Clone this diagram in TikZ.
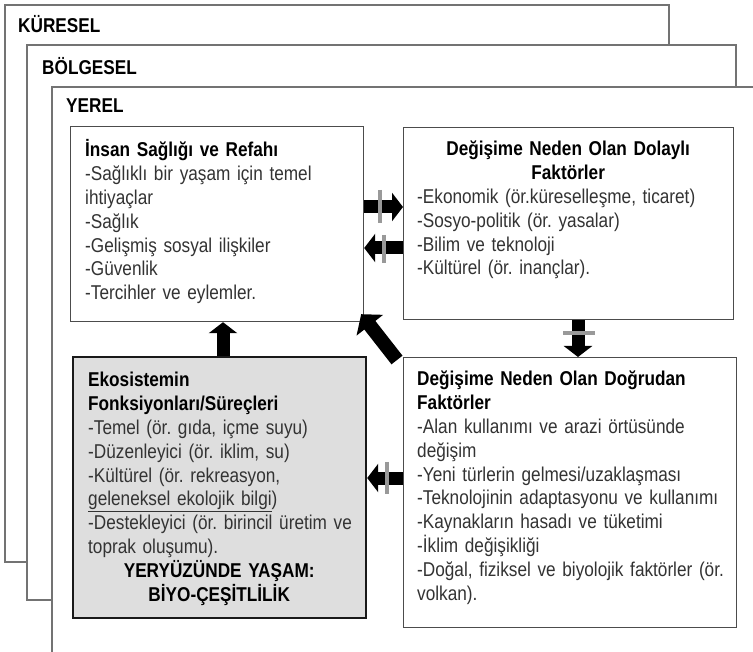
\documentclass[tikz,border=0pt]{standalone}
\usepackage{fontspec}
\setmainfont{Liberation Sans}[FakeStretch=0.86]
\usetikzlibrary{arrows.meta,calc}
\frenchspacing
\begin{document}
\begin{tikzpicture}[x=1pt,y=-1pt,
  frame/.style={draw=black!55, line width=1.3pt, fill=white},
  boxw/.style={draw=black!70, line width=1.2pt, fill=white, inner sep=0pt, anchor=north west},
  boxg/.style={draw=black!90, line width=2.2pt, fill=black!13, inner sep=0pt, anchor=north west},
  lbl/.style={anchor=base west, inner sep=0pt, font=\fontsize{20}{22}\selectfont\bfseries},
  txt/.style={anchor=base west, inner sep=0pt, text width=#1, align=left, font=\fontsize{20}{23.8}\selectfont\frenchspacing, text=black!80},
  bigarrow/.style={line width=13pt, -{Triangle[length=11pt,width=28pt]}, draw=black},
  bar/.style={draw=black!40, line width=3.5pt}
]
\useasboundingbox (0,0) rectangle (753,652);
\clip (0,0) rectangle (753,652);
% frames
\draw[frame] (5,5) rectangle (669,562);
\node[lbl] (lk) at (18,33) {KÜRESEL};
\draw[frame] (27,45) rectangle (736,600);
\node[lbl] (lb) at (42,75) {BÖLGESEL};
\draw[frame] (52,87) rectangle (775,680);
\node[lbl] (ly) at (66,113) {YEREL};
% boxes
\node[boxw, minimum width=293pt, minimum height=195pt] (b1) at (70,126) {};
\node[boxw, minimum width=330pt, minimum height=192pt] (b2) at (403,127) {};
\node[boxg, minimum width=293pt, minimum height=261pt] (b3) at (72,356) {};
\node[boxw, minimum width=333pt, minimum height=270pt] (b4) at (403,357) {};
% texts
\node[txt=275pt] (t1) at (85,157) {{\color{black}\bfseries İnsan Sağlığı ve Refahı}\\
-Sağlıklı bir yaşam için temel\\ ihtiyaçlar\\ -Sağlık\\ -Gelişmiş sosyal ilişkiler\\ -Güvenlik\\ -Tercihler ve eylemler.};
\node[txt=302pt] (t2) at (417,156) {{\centering\color{black}\bfseries Değişime Neden Olan Dolaylı\\ Faktörler\par}
-Ekonomik (ör.küreselleşme, ticaret)\\ -Sosyo-politik (ör. yasalar)\\ -Bilim ve teknoloji\\ -Kültürel (ör. inançlar).};
\node[txt=268pt] (t3) at (88,387) {{\color{black}\bfseries Ekosistemin\\ Fonksiyonları/Süreçleri}\\
-Temel (ör. gıda, içme suyu)\\ -Düzenleyici (ör. iklim, su)\\ -Kültürel (ör. rekreasyon,\\ \underline{geleneksel ekolojik bilgi})\\ -Destekleyici (ör. birincil üretim ve\\ toprak oluşumu).\par
{\centering\color{black}\bfseries\hspace*{-6pt}YERYÜZÜNDE YAŞAM:\\ \hspace*{-6pt}BİYO-ÇEŞİTLİLİK\par}};
\node[txt=315pt] (t4) at (417,386) {{\color{black}\bfseries Değişime Neden Olan Doğrudan\\ Faktörler}\\
-Alan kullanımı ve arazi örtüsünde\\ değişim\\ -Yeni türlerin gelmesi/uzaklaşması\\ -Teknolojinin adaptasyonu ve kullanımı\\ -Kaynakların hasadı ve tüketimi\\ -İklim değişikliği\\ -Doğal, fiziksel ve biyolojik faktörler (ör.\\ volkan).};
% arrows
\draw[bigarrow] ($(b1.north east)+(0,81)$) -- ($(b2.north west)+(0,80)$);
\draw[bar] ($(b1.north east)+(16,64)$) -- ++(0,33);
\draw[bigarrow] ($(b2.north west)+(0,121)$) -- ($(b1.north east)+(0,122)$);
\draw[bar] ($(b1.north east)+(20,109)$) -- ++(0,28);
\draw[bigarrow] ($(b2.south west)+(175,0)$) -- ($(b4.north west)+(175,0)$);
\draw[bar] ($(b2.south west)+(160,13)$) -- ++(32,0);
\draw[bigarrow] ($(b3.north west)+(151,0)$) -- ($(b1.south west)+(153,0)$);
\draw[line width=14pt, -{Triangle[length=14pt,width=33pt]}] ($(b4.north west)+(-6,3)$) -- ($(b1.south east)+(-3,-8)$);
\draw[bigarrow] ($(b4.north west)+(0,121)$) -- ($(b3.north east)+(0,122)$);
\draw[bar] ($(b3.north east)+(20,106)$) -- ++(0,32);
\end{tikzpicture}
\end{document}
